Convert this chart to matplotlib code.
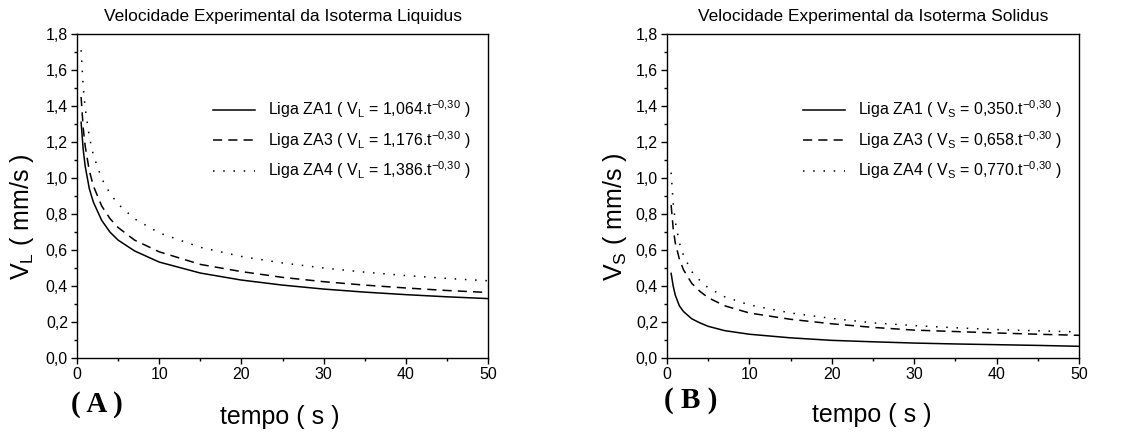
import matplotlib
matplotlib.use("Agg")
import matplotlib.pyplot as plt
from matplotlib.ticker import MultipleLocator, FuncFormatter

plt.rcParams['font.family'] = ['Liberation Sans', 'DejaVu Sans']
plt.rcParams['mathtext.default'] = 'regular'

tempo = [0.5, 0.75, 1, 1.5, 2, 3, 4, 5, 7, 10, 15, 20, 25, 30, 35, 40, 45, 50]

# (A) liquidus isotherm velocity, mm/s
vl_za1 = [1.31, 1.16, 1.064, 0.94, 0.865, 0.765, 0.70, 0.655, 0.595, 0.533,
          0.472, 0.433, 0.405, 0.383, 0.366, 0.352, 0.34, 0.33]
vl_za3 = [1.45, 1.28, 1.176, 1.04, 0.955, 0.845, 0.775, 0.725, 0.655, 0.59,
          0.52, 0.48, 0.448, 0.424, 0.405, 0.389, 0.375, 0.364]
vl_za4 = [1.71, 1.51, 1.386, 1.23, 1.125, 0.997, 0.915, 0.855, 0.773, 0.695,
          0.615, 0.564, 0.528, 0.50, 0.477, 0.458, 0.442, 0.429]

# (B) solidus isotherm velocity, mm/s
vs_za1 = [0.47, 0.40, 0.35, 0.29, 0.258, 0.218, 0.195, 0.176, 0.152, 0.132,
          0.112, 0.098, 0.09, 0.083, 0.078, 0.074, 0.07, 0.065]
vs_za3 = [0.85, 0.72, 0.64, 0.55, 0.49, 0.415, 0.37, 0.335, 0.29, 0.25,
          0.215, 0.19, 0.17, 0.155, 0.147, 0.139, 0.132, 0.126]
vs_za4 = [1.03, 0.86, 0.76, 0.64, 0.57, 0.48, 0.43, 0.39, 0.34, 0.295,
          0.25, 0.22, 0.195, 0.18, 0.168, 0.158, 0.151, 0.145]

labels_l = [r"Liga ZA1 ( $V_L$ = 1,064.t$^{-0{,}30}$ )",
            r"Liga ZA3 ( $V_L$ = 1,176.t$^{-0{,}30}$ )",
            r"Liga ZA4 ( $V_L$ = 1,386.t$^{-0{,}30}$ )"]
labels_s = [r"Liga ZA1 ( $V_S$ = 0,350.t$^{-0{,}30}$ )",
            r"Liga ZA3 ( $V_S$ = 0,658.t$^{-0{,}30}$ )",
            r"Liga ZA4 ( $V_S$ = 0,770.t$^{-0{,}30}$ )"]

styles = ['-', (0, (6, 4)), (0, (1, 5.7))]

W, H = 1141, 434
fig = plt.figure(figsize=(W / 100, H / 100), dpi=100)
axL = fig.add_axes([77 / W, 1 - 358 / H, 411 / W, 324 / H])
axR = fig.add_axes([667 / W, 1 - 358 / H, 412 / W, 324 / H])

comma = FuncFormatter(lambda v, p: f"{v:.1f}".replace('.', ','))


def panel(ax, series, labels, title):
    for y, lab, ls in zip(series, labels, styles):
        ax.plot(tempo, y, color='black', lw=1.1, linestyle=ls, label=lab)
    ax.set_xlim(0, 50)
    ax.set_ylim(0, 1.8)
    ax.xaxis.set_major_locator(MultipleLocator(10))
    ax.xaxis.set_minor_locator(MultipleLocator(5))
    ax.yaxis.set_major_locator(MultipleLocator(0.2))
    ax.yaxis.set_minor_locator(MultipleLocator(0.1))
    ax.yaxis.set_major_formatter(comma)
    ax.tick_params(which='major', direction='out', length=4.5, width=1,
                   labelsize=11.5, pad=2)
    ax.tick_params(which='minor', direction='out', length=2.5, width=1)
    for s in ax.spines.values():
        s.set_linewidth(1.0)
    ax.set_title(title, fontsize=12.5, pad=9)
    ax.legend(loc='upper left', bbox_to_anchor=(0.33, 0.80), frameon=False,
              fontsize=11.5, borderpad=0, borderaxespad=0, handlelength=2.65,
              handletextpad=0.8, labelspacing=0.55)


panel(axL, [vl_za1, vl_za3, vl_za4], labels_l,
      "Velocidade Experimental da Isoterma Liquidus")
panel(axR, [vs_za1, vs_za3, vs_za4], labels_s,
      "Velocidade Experimental da Isoterma Solidus")

# axis labels and panel tags
fig.text(280 / W, 1 - 417 / H, "tempo ( s )", fontsize=18, ha='center', va='center')
fig.text(872 / W, 1 - 415 / H, "tempo ( s )", fontsize=18, ha='center', va='center')
fig.text(22 / W, 1 - 217 / H, r"$V_L$ ( mm/s )", fontsize=18, rotation=90,
         ha='center', va='center')
fig.text(615 / W, 1 - 217 / H, r"$V_S$ ( mm/s )", fontsize=18, rotation=90,
         ha='center', va='center')
fig.text(97 / W, 1 - 405 / H, "( A )", fontsize=21, fontweight='bold',
         family='Liberation Serif', ha='center', va='center')
fig.text(691 / W, 1 - 400 / H, "( B )", fontsize=21, fontweight='bold',
         family='Liberation Serif', ha='center', va='center')

fig.savefig("out.png", dpi=100)
